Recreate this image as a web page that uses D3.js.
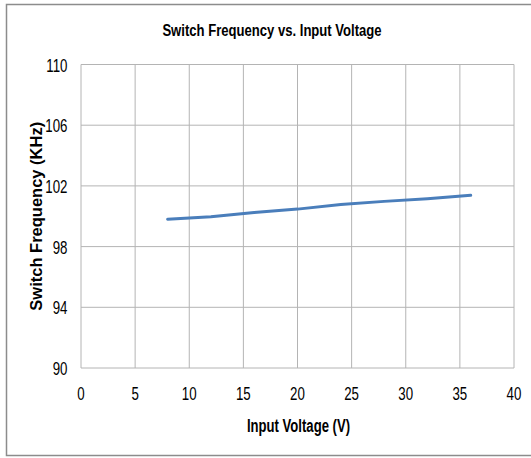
<!DOCTYPE html>
<html>
<head>
<meta charset="utf-8">
<script src="https://cdnjs.cloudflare.com/ajax/libs/d3/7.8.5/d3.min.js"></script>
<style>
  body { margin: 0; background: #fff; }
  text { font-family: "Liberation Sans", Arial, sans-serif; fill: #000; }
</style>
</head>
<body>
<div id="chart"></div>
<script>
var voltage = [8, 12, 16, 20, 24, 28, 32, 36];
var frequency = [99.8, 99.97, 100.25, 100.47, 100.78, 100.98, 101.15, 101.38];
var xTicks = [0, 5, 10, 15, 20, 25, 30, 35, 40];
var yTicks = [90, 94, 98, 102, 106, 110];

var width = 531, height = 458;
var margin = { left: 81, right: 17, top: 64.5, bottom: 90 };

var svg = d3.select("#chart").append("svg")
  .attr("width", width).attr("height", height);

// outer frame
svg.append("rect")
  .attr("x", 6.5).attr("y", 4.5)
  .attr("width", 540).attr("height", 451)
  .style("fill", "none").style("stroke", "#8c8c8c").style("stroke-width", 1.5);

var x = d3.scaleLinear().domain([0, 40]).range([margin.left, width - margin.right]);
var y = d3.scaleLinear().domain([90, 110]).range([height - margin.bottom, margin.top]);

// condensed text, no narrow font installed so squeeze it
var narrow = function(g, px, py, str, size, sx, anchor, weight) {
  return g.append("text")
    .attr("transform", "translate(" + px + "," + py + ") scale(" + sx + ",1)")
    .attr("text-anchor", anchor)
    .style("font-size", size + "px")
    .style("font-weight", weight || "normal")
    .text(str);
};

// grid
svg.append("g").selectAll("line").data(xTicks).enter().append("line")
  .attr("x1", function(d) { return x(d); }).attr("x2", function(d) { return x(d); })
  .attr("y1", y(90)).attr("y2", y(110))
  .style("stroke", "#b4b4b4").style("stroke-width", 1);
svg.append("g").selectAll("line").data(yTicks).enter().append("line")
  .attr("x1", x(0)).attr("x2", x(40))
  .attr("y1", function(d) { return y(d); }).attr("y2", function(d) { return y(d); })
  .style("stroke", "#b4b4b4").style("stroke-width", 1);

// tick labels
var xt = svg.append("g");
xTicks.forEach(function(d) { narrow(xt, x(d), y(90) + 32, d, 19, 0.7, "middle"); });
var yt = svg.append("g");
yTicks.forEach(function(d) { narrow(yt, x(0) - 13.5, y(d) + 7, d, 19, 0.7, "end"); });

// line
var line = d3.line()
  .x(function(d, i) { return x(voltage[i]); })
  .y(function(d) { return y(d); });
svg.append("path").datum(frequency)
  .attr("d", line)
  .style("fill", "none").style("stroke", "#4a7ebb").style("stroke-width", 3)
  .style("stroke-linecap", "round");

// titles
narrow(svg, 272, 36, "Switch Frequency vs. Input Voltage", 17, 0.77, "middle", "bold");
narrow(svg, 298.5, 431.5, "Input Voltage (V)", 19, 0.69, "middle", "bold");
svg.append("text")
  .attr("transform", "translate(41.5," + ((y(90) + y(110)) / 2) + ") rotate(-90)")
  .attr("text-anchor", "middle")
  .style("font-weight", "bold").style("font-size", "16.5px")
  .text("Switch Frequency (KHz)");
</script>
</body>
</html>
